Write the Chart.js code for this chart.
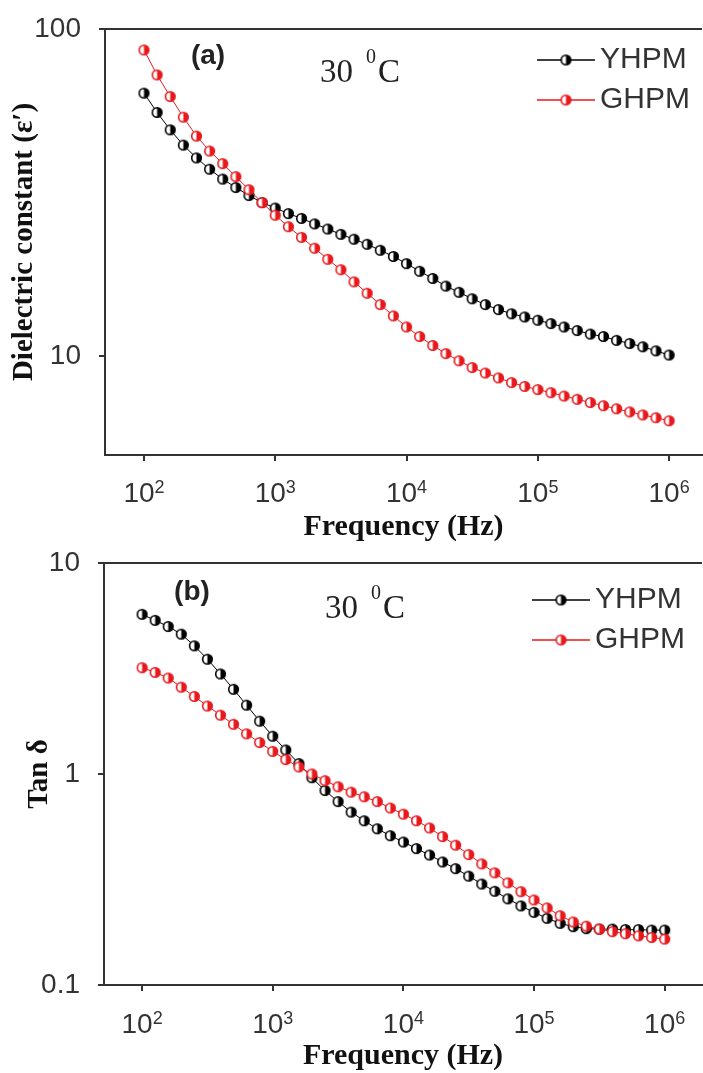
<!DOCTYPE html>
<html>
<head>
<meta charset="utf-8">
<script src="https://cdn.jsdelivr.net/npm/chart.js@4.4.1/dist/chart.umd.min.js"></script>
<style>
  html, body { margin: 0; padding: 0; background: #fff; }
  body { width: 703px; height: 1073px; position: relative; overflow: hidden; }
  .panel { position: absolute; left: 0; width: 703px; }
  #boxA { top: 0; height: 545px; }
  #boxB { top: 540px; height: 533px; }
</style>
</head>
<body>
<div class="panel" id="boxA"><canvas id="chartA"></canvas></div>
<div class="panel" id="boxB"><canvas id="chartB"></canvas></div>
<script>
// Frequency points (Hz), 10 per decade
const frequency = [
    100, 125.9, 158.5, 199.5, 251.2, 316.2, 398.1, 501.2, 631.0, 794.3,
    1000, 1259, 1585, 1995, 2512, 3162, 3981, 5012, 6310, 7943,
    10000, 12589, 15849, 19953, 25119, 31623, 39811, 50119, 63096, 79433,
    100000, 125893, 158489, 199526, 251189, 316228, 398107, 501187, 630957, 794328,
    1000000
];

// (a) Dielectric constant
const epsYHPM = [
    63.7, 55.6, 49.2, 44.2, 40.4, 37.3, 34.8, 32.8, 31.0, 29.5,
    28.4, 27.3, 26.4, 25.4, 24.5, 23.6, 22.8, 22.0, 21.1, 20.2,
    19.2, 18.2, 17.3, 16.4, 15.7, 15.0, 14.4, 13.9, 13.5, 13.2,
    12.9, 12.6, 12.3, 12.0, 11.7, 11.5, 11.2, 10.95, 10.7, 10.4,
    10.1
];
const epsGHPM = [
    86.3, 72.4, 62.2, 53.8, 47.1, 42.4, 38.8, 35.4, 32.3, 29.5,
    27.0, 24.9, 23.1, 21.4, 19.8, 18.4, 16.9, 15.6, 14.4, 13.3,
    12.3, 11.5, 10.8, 10.2, 9.7, 9.25, 8.9, 8.6, 8.32, 8.1,
    7.92, 7.75, 7.57, 7.4, 7.23, 7.07, 6.92, 6.77, 6.63, 6.5,
    6.36
];

// (b) Tan delta
const tanYHPM = [
    5.71, 5.35, 5.0, 4.6, 4.05, 3.5, 2.98, 2.52, 2.12, 1.78,
    1.51, 1.30, 1.12, 0.96, 0.835, 0.74, 0.66, 0.60, 0.55, 0.51,
    0.476, 0.443, 0.413, 0.383, 0.356, 0.328, 0.301, 0.278, 0.256, 0.237,
    0.221, 0.207, 0.196, 0.189, 0.185, 0.184, 0.184, 0.183, 0.183, 0.182,
    0.182
];
const tanGHPM = [
    3.19, 3.03, 2.85, 2.58, 2.33, 2.10, 1.90, 1.72, 1.55, 1.41,
    1.28, 1.17, 1.08, 1.00, 0.93, 0.87, 0.82, 0.78, 0.74, 0.69,
    0.645, 0.60, 0.555, 0.505, 0.46, 0.415, 0.375, 0.34, 0.305, 0.277,
    0.253, 0.232, 0.213, 0.199, 0.19, 0.184, 0.179, 0.175, 0.171, 0.168,
    0.165
];

const seriesNames = ['YHPM', 'GHPM'];
const xTickValues = [1e2, 1e3, 1e4, 1e5, 1e6];
const epsTickValues = [10, 100];
const tanTickValues = [0.1, 1, 10];
const tempValue = '30';
const tempSup = '0';
const tempUnit = 'C';

const SANS = '"Liberation Sans", Arial, sans-serif';
const SERIF = '"Liberation Serif", "Times New Roman", serif';
const AXIS = '#333';
const RED = '#e8191d';

// half filled circle marker (left white, right colour)
function makeMarker(color) {
    const c = document.createElement('canvas');
    c.width = 13; c.height = 13;
    const g = c.getContext('2d');
    g.beginPath(); g.arc(6.5, 6.5, 4.8, 0, Math.PI * 2); g.fillStyle = '#fff'; g.fill();
    g.beginPath(); g.moveTo(6.5, 6.5); g.arc(6.5, 6.5, 4.8, -Math.PI / 2, Math.PI / 2); g.closePath();
    g.fillStyle = color; g.fill();
    g.beginPath(); g.arc(6.5, 6.5, 4.8, 0, Math.PI * 2); g.lineWidth = 1.6; g.strokeStyle = color; g.stroke();
    return c;
}
const markerBlack = makeMarker('#000');
const markerRed = makeMarker(RED);

// frame top line, x tick labels with exponents, panel tag, temperature and legend
function decorPlugin(p) {
    return {
        id: 'decor',
        afterDraw(chart) {
            const g = chart.ctx, a = chart.chartArea;
            g.save();
            g.strokeStyle = AXIS; g.lineWidth = 2;
            g.beginPath(); g.moveTo(a.left, a.top); g.lineTo(a.right, a.top); g.stroke();

            // x tick labels: 10 with superscript exponent
            const sx = chart.scales.x;
            g.fillStyle = AXIS;
            g.textAlign = 'left'; g.textBaseline = 'alphabetic';
            xTickValues.forEach(v => {
                const px = sx.getPixelForValue(v);
                const ex = String(Math.round(Math.log10(v)));
                g.font = '28px ' + SANS;
                const wb = g.measureText('10').width;
                g.font = '18px ' + SANS;
                const we = g.measureText(ex).width;
                const x0 = px - (wb + we) / 2;
                const base = sx.top + p.xLabelBase;
                g.font = '28px ' + SANS;
                g.fillText('10', x0, base);
                g.font = '18px ' + SANS;
                g.fillText(ex, x0 + wb, base - 9);
            });

            g.fillStyle = '#222';
            g.font = 'bold 28px ' + SANS;
            g.textAlign = 'center'; g.textBaseline = 'middle';
            g.fillText(p.tag, p.tagX, p.tagY);

            g.textAlign = 'left'; g.textBaseline = 'alphabetic';
            g.font = '33px ' + SERIF;
            g.fillText(tempValue, p.tempX, p.tempY);
            g.font = '20px ' + SERIF;
            g.fillText(tempSup, p.tempX + 46, p.tempY - 19);
            g.font = '33px ' + SERIF;
            g.fillText(tempUnit, p.tempX + 58, p.tempY);

            chart.data.datasets.forEach((ds, i) => {
                const y = p.legY + i * 40;
                g.strokeStyle = ds.borderColor; g.lineWidth = 1.3;
                g.beginPath(); g.moveTo(p.legX, y); g.lineTo(p.legX + 58, y); g.stroke();
                g.drawImage(ds.pointStyle, p.legX + 29 - 6.5, y - 6.5);
                g.fillStyle = '#333';
                g.font = '30px ' + SANS;
                g.textBaseline = 'middle';
                g.fillText(ds.label, p.legX + 63, y);
            });
            g.restore();
        }
    };
}

function buildPanel(canvasId, p) {
    const ctx = document.getElementById(canvasId).getContext('2d');
    const lineSet = (label, vals, color, marker, order) => ({
        label: label,
        data: frequency.map((f, i) => ({ x: f, y: vals[i] })),
        showLine: true,
        borderColor: color,
        backgroundColor: color,
        borderWidth: 1,
        pointStyle: marker,
        // small nominal radius so the markers do not add layout padding
        pointRadius: 1,
        pointHoverRadius: 1,
        pointBorderWidth: 0,
        order: order
    });
    return new Chart(ctx, {
        type: 'scatter',
        data: {
            datasets: [
                lineSet(seriesNames[0], p.black, '#000', markerBlack, 1),
                lineSet(seriesNames[1], p.red, RED, markerRed, 0)
            ]
        },
        options: {
            responsive: true,
            maintainAspectRatio: false,
            animation: false,
            devicePixelRatio: 1,
            layout: { padding: { top: p.padTop, right: 0, bottom: 0, left: 0 } },
            plugins: { legend: { display: false }, tooltip: { enabled: false } },
            scales: {
                x: {
                    type: 'logarithmic',
                    min: p.xMin, max: p.xMax,
                    afterBuildTicks: s => { s.ticks = xTickValues.map(v => ({ value: v })); },
                    afterFit: s => {
                        s.height = p.xAxisHeight;
                        s.paddingLeft = 0; s.paddingRight = 0;
                    },
                    grid: { drawOnChartArea: false, drawTicks: true, tickLength: 6, color: AXIS, lineWidth: 2 },
                    border: { display: true, color: AXIS, width: 2 },
                    ticks: {
                        callback: () => '',
                        font: { size: 28, family: SANS },
                        autoSkip: false,
                        maxRotation: 0
                    },
                    title: {
                        display: true,
                        text: 'Frequency (Hz)',
                        font: { size: 30, weight: 'bold', family: SERIF, lineHeight: 1.1 },
                        color: '#111',
                        padding: { top: 0, bottom: p.xTitlePad }
                    }
                },
                y: {
                    type: 'logarithmic',
                    min: p.yMin, max: p.yMax,
                    afterBuildTicks: s => { s.ticks = p.yTicks.map(v => ({ value: v })); },
                    afterFit: s => {
                        s.width = p.yAxisWidth;
                        s.paddingTop = 0; s.paddingBottom = 0;
                    },
                    grid: { drawOnChartArea: false, drawTicks: true, tickLength: 6, color: AXIS, lineWidth: 2 },
                    border: { display: true, color: AXIS, width: 2 },
                    ticks: {
                        callback: v => String(v),
                        font: { size: 28, family: SANS },
                        color: AXIS,
                        padding: 18,
                        autoSkip: false
                    },
                    title: {
                        display: true,
                        text: p.yTitle,
                        font: { size: 29, weight: 'bold', family: SERIF, lineHeight: 1.1 },
                        color: '#111',
                        padding: { top: p.yTitlePad, bottom: 0 }
                    }
                }
            }
        },
        plugins: [decorPlugin(p)]
    });
}

buildPanel('chartA', {
    black: epsYHPM, red: epsGHPM,
    xMin: 50.5, xMax: 1.78e6, yMin: 5, yMax: 100, yTicks: epsTickValues,
    yTitle: 'Dielectric constant (\u03b5\u2032)',
    padTop: 29, xAxisHeight: 90, yAxisWidth: 105, xTitlePad: 1, yTitlePad: 9,
    xLabelBase: 47,
    tag: '(a)', tagX: 208, tagY: 56,
    tempX: 320, tempY: 82,
    legX: 537, legY: 60
});

buildPanel('chartB', {
    black: tanYHPM, red: tanGHPM,
    xMin: 51.1, xMax: 1.93e6, yMin: 0.1, yMax: 10, yTicks: tanTickValues,
    yTitle: 'Tan \u03b4',
    padTop: 23, xAxisHeight: 88, yAxisWidth: 104, xTitlePad: 0, yTitlePad: 24,
    xLabelBase: 48,
    tag: '(b)', tagX: 192, tagY: 52,
    tempX: 325, tempY: 78,
    legX: 532, legY: 60
});
</script>
</body>
</html>
